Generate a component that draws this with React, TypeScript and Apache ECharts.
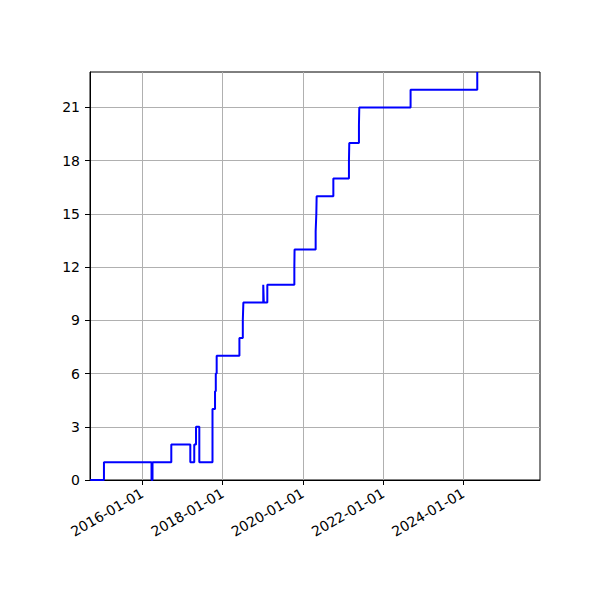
import React, { useEffect, useRef } from 'react';
import * as echarts from 'echarts';

// cumulative count, drawn as a post-step line
const stepDates = [
  '2014-09-14', '2015-01-17', '2016-03-25', '2016-04-03', '2016-09-21',
  '2017-03-13', '2017-04-18', '2017-05-04', '2017-06-03', '2017-10-01',
  '2017-10-24', '2017-10-31', '2017-11-08', '2018-06-03', '2018-07-04',
  '2018-07-09', '2019-01-06', '2019-01-11', '2019-02-12', '2019-10-16',
  '2019-10-18', '2020-04-27', '2020-05-03', '2020-05-06', '2020-10-05',
  '2021-02-24', '2021-02-27', '2021-05-26', '2021-05-29', '2022-09-08',
  '2024-05-07',
];
const stepValues = [
  0, 1, 0, 1, 2,
  1, 2, 3, 1, 4,
  5, 6, 7, 8, 9,
  10, 11, 10, 11, 12,
  13, 14, 15, 16, 17,
  18, 19, 20, 21, 22,
  23,
];
const xTickDates = ['2016-01-01', '2018-01-01', '2020-01-01', '2022-01-01', '2024-01-01'];
const xRange = ['2014-09-12', '2025-11-29'];
const yTickValues = [0, 3, 6, 9, 12, 15, 18, 21];
const yMax = 23;

const toTime = (s: string) => {
  const [y, m, d] = s.split('-').map(Number);
  return new Date(y, m - 1, d).getTime();
};
const pad = (n: number) => (n < 10 ? '0' + n : '' + n);
const fmtDate = (v: number) => {
  const d = new Date(v);
  return `${d.getFullYear()}-${pad(d.getMonth() + 1)}-${pad(d.getDate())}`;
};

const FONT = 'DejaVu Sans';

const App: React.FC = () => {
  const chartRef = useRef<HTMLDivElement>(null);

  useEffect(() => {
    if (!chartRef.current) return;
    const chart = echarts.init(chartRef.current, null, { renderer: 'svg' });

    const xTicks = xTickDates.map(toTime);

    const option: echarts.EChartsOption = {
      animation: false,
      backgroundColor: '#ffffff',
      grid: {
        left: 90,
        right: 60,
        top: 72,
        bottom: 120,
        show: true,
        borderColor: '#000000',
        borderWidth: 1,
        backgroundColor: 'transparent',
      },
      xAxis: {
        type: 'value',
        min: toTime(xRange[0]),
        max: toTime(xRange[1]),
        axisLine: { show: true, lineStyle: { color: '#000000', width: 1 } },
        axisTick: {
          show: true,
          length: 5,
          lineStyle: { color: '#000000', width: 1 },
          customValues: xTicks,
        },
        axisLabel: {
          customValues: xTicks,
          rotate: 30,
          margin: 12,
          color: '#000000',
          fontFamily: FONT,
          fontSize: 14,
          formatter: (v: number) => fmtDate(v),
        },
        splitLine: { show: true, lineStyle: { color: '#b0b0b0', width: 1 } },
      },
      yAxis: {
        type: 'value',
        min: 0,
        max: yMax,
        axisLine: { show: true, lineStyle: { color: '#000000', width: 1 } },
        axisTick: {
          show: true,
          length: 5,
          lineStyle: { color: '#000000', width: 1 },
          customValues: yTickValues,
        },
        axisLabel: {
          customValues: yTickValues,
          margin: 10,
          color: '#000000',
          fontFamily: FONT,
          fontSize: 14,
        },
        splitLine: { show: true, lineStyle: { color: '#b0b0b0', width: 1 } },
      },
      series: [
        {
          type: 'line',
          step: 'end',
          showSymbol: false,
          clip: true,
          lineStyle: { color: '#0000ff', width: 2 },
          data: stepDates.map((d, i) => [toTime(d), stepValues[i]]),
        },
      ],
    };

    chart.setOption(option);
    return () => {
      chart.dispose();
    };
  }, []);

  return (
    <div
      ref={chartRef}
      style={{ position: 'fixed', left: 0, top: 0, width: '600px', height: '600px' }}
    ></div>
  );
};

export default App;
